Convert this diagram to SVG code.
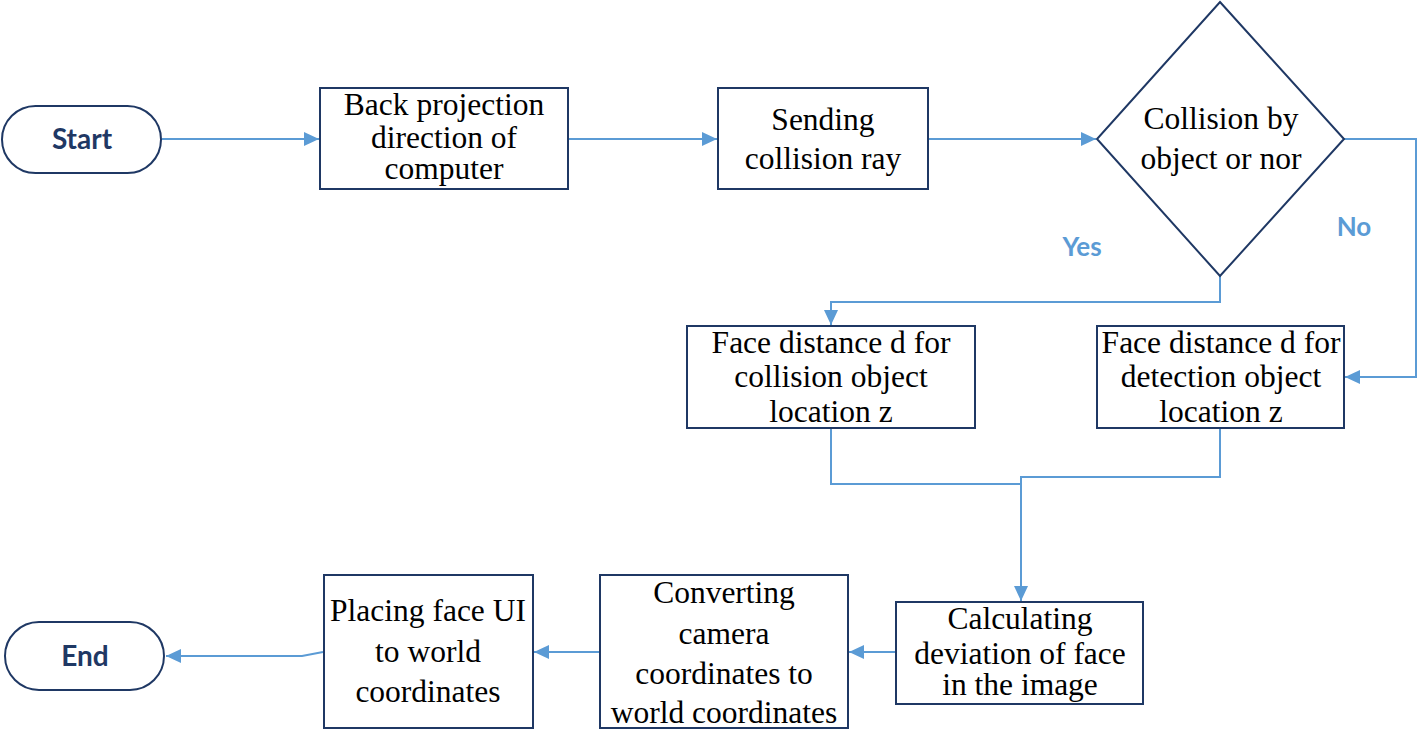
<svg xmlns="http://www.w3.org/2000/svg" width="1418" height="741" viewBox="0 0 1418 741">
<defs>
<marker id="arr" markerUnits="userSpaceOnUse" markerWidth="16" markerHeight="14" refX="15" refY="7" orient="auto">
<path d="M0,0 L15,7 L0,14 Z" fill="#5b9bd5"/>
</marker>
<style>
.box{fill:#fff;stroke:#1f3864;stroke-width:2}
.t{font-family:"Liberation Serif","Times New Roman",serif;font-size:31.5px;fill:#000;text-anchor:middle}
.term{font-family:Lato,"Open Sans",sans-serif;font-weight:bold;font-size:28px;fill:#1f3864;text-anchor:middle}
.lbl{font-family:Lato,"Open Sans",sans-serif;font-weight:bold;font-size:26px;fill:#5b9bd5;text-anchor:middle}
.c{fill:none;stroke:#5b9bd5;stroke-width:2}
</style>
</defs>
<rect width="1418" height="741" fill="#fff"/>
<g id="connectors">
<path class="c" d="M162,139 H319" marker-end="url(#arr)"/>
<path class="c" d="M568,139 H717" marker-end="url(#arr)"/>
<path class="c" d="M928,139 H1096" marker-end="url(#arr)"/>
<path class="c" d="M1220,276 V302 H831 V325" marker-end="url(#arr)"/>
<path class="c" d="M1344,139 H1416 V377 H1345" marker-end="url(#arr)"/>
<path class="c" d="M831,428 V484 H1021"/>
<path class="c" d="M1220,428 V477 H1021 V601" marker-end="url(#arr)"/>
<path class="c" d="M896,652 H849" marker-end="url(#arr)"/>
<path class="c" d="M600,652 H534" marker-end="url(#arr)"/>
<path class="c" d="M323,652 L302,656 H166" marker-end="url(#arr)"/>
<text class="lbl" x="1082" y="256">Yes</text>
<text class="lbl" x="1354" y="236">No</text>
</g>
<g id="start">
<rect x="2" y="106" width="159" height="67" rx="33.5" class="box"/>
<text class="term" x="82" y="149">Start</text>
</g>
<g id="back-projection">
<rect x="320" y="88" width="248" height="101" class="box"/>
<text class="t" x="444" y="115">Back projection</text>
<text class="t" x="444" y="148">direction of</text>
<text class="t" x="444" y="179">computer</text>
</g>
<g id="sending">
<rect x="718" y="88" width="210" height="101" class="box"/>
<text class="t" x="823" y="130">Sending</text>
<text class="t" x="823" y="169">collision ray</text>
</g>
<g id="decision">
<polygon points="1220,2 1344,139 1220,276 1097,139" class="box"/>
<text class="t" x="1221" y="129">Collision by</text>
<text class="t" x="1221" y="169">object or nor</text>
</g>
<g id="face-collision">
<rect x="687" y="326" width="288" height="102" class="box"/>
<text class="t" x="831" y="353">Face distance d for</text>
<text class="t" x="831" y="387">collision object</text>
<text class="t" x="831" y="422">location z</text>
</g>
<g id="face-detection">
<rect x="1097" y="326" width="247" height="102" class="box"/>
<text class="t" x="1221" y="353">Face distance d for</text>
<text class="t" x="1221" y="387">detection object</text>
<text class="t" x="1221" y="422">location z</text>
</g>
<g id="calculating">
<rect x="896" y="602" width="247" height="102" class="box"/>
<text class="t" x="1020" y="629">Calculating</text>
<text class="t" x="1020" y="664">deviation of face</text>
<text class="t" x="1020" y="695">in the image</text>
</g>
<g id="converting">
<rect x="600" y="575" width="248" height="153" class="box"/>
<text class="t" x="724" y="603">Converting</text>
<text class="t" x="724" y="644">camera</text>
<text class="t" x="724" y="684">coordinates to</text>
<text class="t" x="724" y="723">world coordinates</text>
</g>
<g id="placing">
<rect x="324" y="575" width="209" height="153" class="box"/>
<text class="t" x="428" y="621">Placing face UI</text>
<text class="t" x="428" y="662">to world</text>
<text class="t" x="428" y="702">coordinates</text>
</g>
<g id="end">
<rect x="5" y="622" width="159" height="68" rx="34" class="box"/>
<text class="term" x="85" y="666">End</text>
</g>
</svg>
